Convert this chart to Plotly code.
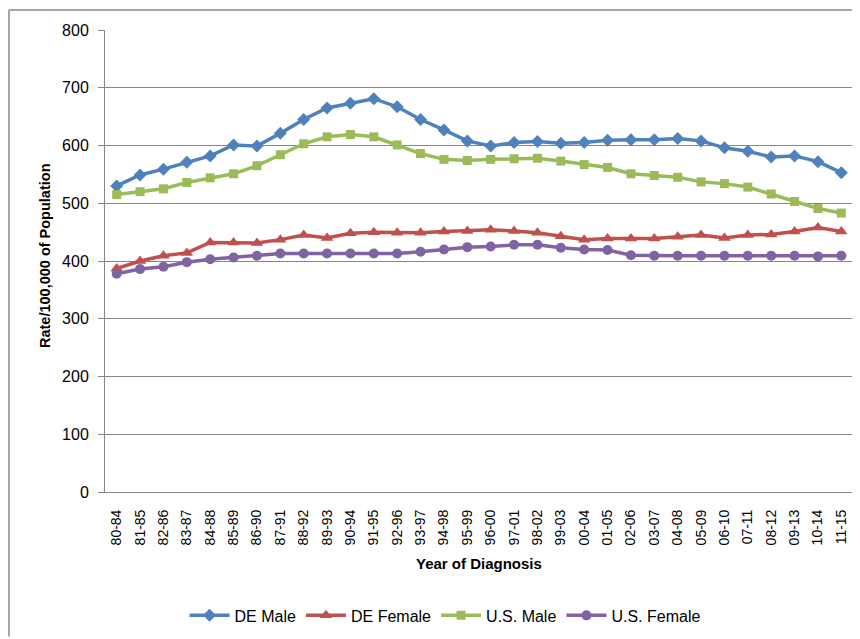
import plotly.graph_objects as go

categories = ["80-84", "81-85", "82-86", "83-87", "84-88", "85-89", "86-90", "87-91",
              "88-92", "89-93", "90-94", "91-95", "92-96", "93-97", "94-98", "95-99",
              "96-00", "97-01", "98-02", "99-03", "00-04", "01-05", "02-06", "03-07",
              "04-08", "05-09", "06-10", "07-11", "08-12", "09-13", "10-14", "11-15"]

de_male = [530, 549, 559, 571, 582, 601, 599, 621, 645, 665, 673, 681, 667, 645, 627, 608,
           599, 605, 607, 604, 605, 609, 610, 610, 612, 608, 596, 590, 580, 582, 572, 553]
de_female = [387, 400, 409, 414, 432, 432, 431, 437, 445, 440, 448, 450, 449, 449, 451, 452,
             454, 452, 449, 443, 437, 439, 439, 439, 442, 445, 440, 445, 446, 451, 458, 451]
us_male = [515, 520, 525, 536, 544, 551, 565, 584, 603, 615, 619, 615, 601, 586, 576, 574,
           576, 577, 578, 573, 567, 562, 551, 548, 545, 537, 534, 528, 516, 503, 491, 483]
us_female = [378, 386, 390, 398, 403, 406, 409, 413, 413, 413, 413, 413, 413, 416, 420, 424,
             425, 428, 428, 423, 420, 419, 410, 409, 409, 409, 409, 409, 409, 409, 408, 409]

series = [
    ("DE Male", de_male, "#4F81BD", "diamond", 10),
    ("DE Female", de_female, "#C0504D", "triangle-up", 11),
    ("U.S. Male", us_male, "#9BBB59", "square", 9),
    ("U.S. Female", us_female, "#8064A2", "circle", 10),
]

fig = go.Figure()
for name, vals, color, sym, size in series:
    fig.add_trace(go.Scatter(
        x=categories, y=vals, name=name, mode="lines+markers",
        line=dict(color=color, width=3.5),
        marker=dict(symbol=sym, size=size, color=color),
    ))

font_fam = "Liberation Sans, Arial, sans-serif"

# page body has an 8px margin, so the figure is drawn 8px in from the window corner
PW, PH = 748, 464  # plot area size
def px(xr):
    return (xr - 105) / PW
def py(yr):
    return (494 - yr) / PH

fig.update_layout(
    width=852, height=631,
    margin=dict(l=97, r=7, t=22, b=145),
    paper_bgcolor="white", plot_bgcolor="white",
    font=dict(family=font_fam, color="#000000"),
    showlegend=True,
    legend=dict(orientation="h", x=px(445), xanchor="center", y=py(618), yanchor="middle",
                font=dict(size=16, family=font_fam), itemwidth=40, tracegroupgap=0,
                bgcolor="rgba(0,0,0,0)"),
    xaxis=dict(
        type="category", range=[-0.5, len(categories) - 0.5], autorange=False,
        showgrid=False, showline=True, linecolor="#868686", linewidth=1,
        tickangle=-90, tickfont=dict(size=14, family=font_fam), ticks="", ticklabelstandoff=11,
        zeroline=False,
    ),
    yaxis=dict(
        range=[0, 800], dtick=100, showgrid=True, gridcolor="#868686", gridwidth=1.2,
        showline=True, linecolor="#868686", linewidth=1, ticks="outside", ticklen=6,
        tickcolor="#868686", tickfont=dict(size=16, family=font_fam), zeroline=False,
        ticklabelstandoff=6,
    ),
    annotations=[
        dict(text="<b>Year of Diagnosis</b>", x=px(479), y=py(566), xref="paper", yref="paper",
             showarrow=False, font=dict(size=15, family=font_fam), xanchor="center", yanchor="middle"),
        dict(text="<b>Rate/100,000 of Population</b>", x=px(45), y=py(257),
             xref="paper", yref="paper", textangle=-90, showarrow=False,
             font=dict(size=14.5, family=font_fam), xanchor="center", yanchor="middle"),
    ],
    shapes=[
        dict(type="line", xref="paper", yref="paper", x0=px(9), x1=px(860),
             y0=py(10), y1=py(10), line=dict(color="#A6A6A6", width=2)),
        dict(type="line", xref="paper", yref="paper", x0=px(9), x1=px(9),
             y0=py(10), y1=py(639), line=dict(color="#A6A6A6", width=2)),
    ],
)

fig.write_html("out.html")
